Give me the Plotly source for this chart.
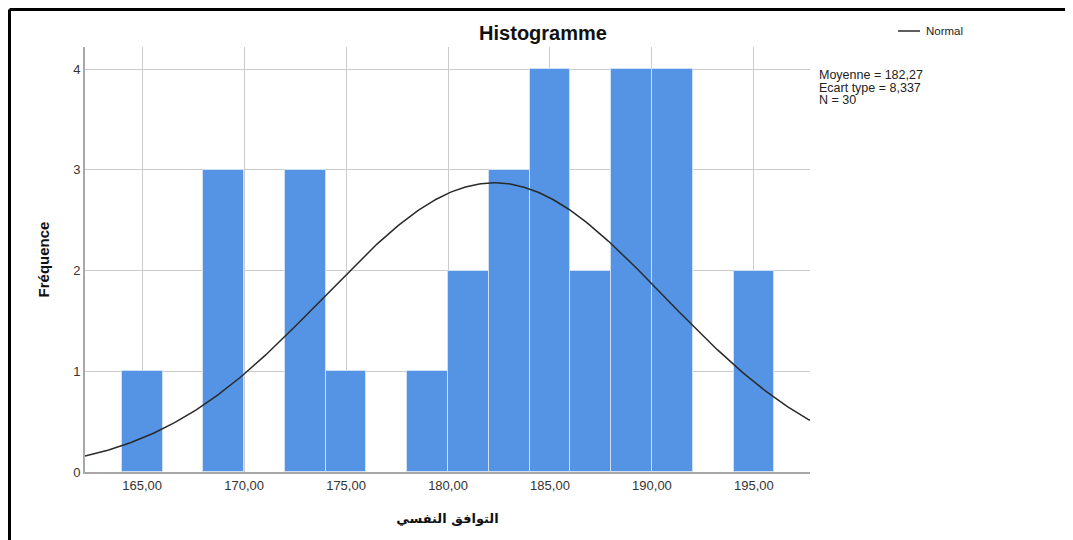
import numpy as np
import plotly.graph_objects as go

# ---- data ----
bin_starts = [164, 168, 172, 174, 178, 180, 182, 184, 186, 188, 190, 194]
counts = [1, 3, 3, 1, 1, 2, 3, 4, 2, 4, 4, 2]
bin_width = 2
mean_val = 182.27
sd_val = 8.337
n_val = 30
x_tick_vals = [165, 170, 175, 180, 185, 190, 195]
x_tick_text = ["165,00", "170,00", "175,00", "180,00", "185,00", "190,00", "195,00"]
y_tick_vals = [0, 1, 2, 3, 4]
stats_lines = ["Moyenne = 182,27", "Ecart type = 8,337", "N = 30"]
legend_label = "Normal"
title_text = "Histogramme"
x_title = "التوافق النفسي"
y_title = "Fréquence"

x_range = [162.2, 197.75]
y_range = [0, 4.22]

centers = [s + bin_width / 2 for s in bin_starts]

xs = np.linspace(x_range[0], x_range[1], 400)
ys = n_val * bin_width / (sd_val * np.sqrt(2 * np.pi)) * np.exp(-0.5 * ((xs - mean_val) / sd_val) ** 2)

# the page places the figure 8px from the top-left corner
OFF = 8
PL, PR, PT, PB = 85, 810, 47, 472  # plot area in screen pixels
PW, PH = PR - PL, PB - PT


def px(x):
    return (x - PL) / PW


def py(y):
    return (PB - y) / PH


fig = go.Figure()
fig.add_trace(go.Bar(
    x=centers, y=counts, width=bin_width,
    marker=dict(color="#5594e4", line=dict(color="#cfe0f5", width=1)),
    showlegend=False, hoverinfo="x+y",
))
fig.add_trace(go.Scatter(
    x=xs, y=ys, mode="lines", name=legend_label,
    line=dict(color="#2a2a2a", width=1.5), showlegend=False,
))

font_main = "Liberation Sans, Arial, sans-serif"

fig.update_layout(
    width=1073, height=540,
    margin=dict(l=PL - OFF, r=1073 + OFF - PR, t=PT - OFF, b=540 + OFF - PB),
    paper_bgcolor="white", plot_bgcolor="white",
    bargap=0,
    title=dict(text="<b>" + title_text + "</b>", x=px(543), xref="paper", xanchor="center",
               y=1 - (33 - OFF) / 540, yanchor="middle",
               font=dict(family=font_main, size=20, color="#111111")),
    showlegend=False,
)

fig.update_xaxes(
    range=x_range, tickvals=x_tick_vals, ticktext=x_tick_text,
    showgrid=True, gridcolor="#cccccc", gridwidth=1,
    showline=True, linecolor="#a8a8a8", linewidth=2,
    zeroline=False, ticks="",
    tickfont=dict(family=font_main, size=13, color="#333333"),
    title=dict(text="<b>" + x_title + "</b>", standoff=22,
               font=dict(family="DejaVu Sans, Noto Sans, sans-serif", size=13, color="#111111")),
)
fig.update_yaxes(
    range=y_range, tickvals=y_tick_vals,
    showgrid=True, gridcolor="#cccccc", gridwidth=1,
    showline=True, linecolor="#a8a8a8", linewidth=2,
    zeroline=False, ticks="",
    tickfont=dict(family=font_main, size=13, color="#333333"),
    title=dict(text="<b>" + y_title + "</b>", standoff=20,
               font=dict(family=font_main, size=15, color="#111111")),
)

# legend (line sample + label)
fig.add_shape(type="line", xref="paper", yref="paper",
              x0=px(898), x1=px(920), y0=py(31), y1=py(31),
              line=dict(color="#2a2a2a", width=1.5))
fig.add_annotation(
    text=legend_label, xref="paper", yref="paper",
    x=px(924), xanchor="left", y=py(31), yanchor="middle",
    showarrow=False, font=dict(family=font_main, size=11.5, color="#222222"),
)

# stats text lines
for i, line in enumerate(stats_lines):
    fig.add_annotation(
        text=line, xref="paper", yref="paper",
        x=px(817), xanchor="left",
        y=py(75 + 12.5 * i), yanchor="middle",
        showarrow=False, font=dict(family=font_main, size=12.5, color="#222222"),
    )

# outer frame (top and left border lines)
fig.add_shape(type="line", xref="paper", yref="paper",
              x0=px(9.5), x1=px(1090), y0=py(9.5), y1=py(9.5),
              line=dict(color="black", width=3))
fig.add_shape(type="line", xref="paper", yref="paper",
              x0=px(9.5), x1=px(9.5), y0=py(9.5), y1=py(560),
              line=dict(color="black", width=3))

fig.write_html("out.html")
